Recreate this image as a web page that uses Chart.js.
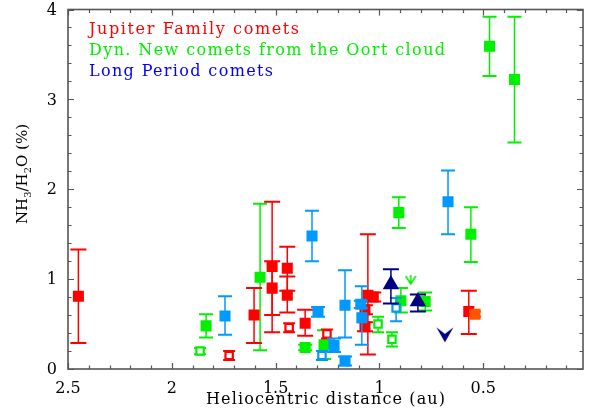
<!DOCTYPE html>
<html>
<head>
<meta charset="utf-8">
<script src="https://cdn.jsdelivr.net/npm/chart.js@4"></script>
<style>
  html, body { margin: 0; padding: 0; background: #fff; }
</style>
</head>
<body>
<canvas id="nh3Chart" width="596" height="416"></canvas>
<script>
// Heliocentric distance (au), NH3/H2O (%) and the low/high ends of each error bar

// Jupiter Family comets
const jfcDist  = [2.45, 1.604, 1.517, 1.517, 1.444, 1.444, 1.358, 1.056, 1.03, 1.07, 1.07, 0.57];
const jfcRatio = [0.81, 0.60, 1.14, 0.90, 1.12, 0.82, 0.51, 0.82, 0.80, 0.66, 0.47, 0.64];
const jfcLo    = [0.29, 0.29, 0.41, 0.60, 0.87, 0.63, 0.37, 0.16, 0.75, 0.61, 0.42, 0.39];
const jfcHi    = [1.33, 0.90, 1.86, 1.20, 1.36, 1.03, 0.66, 1.50, 0.85, 0.71, 0.52, 0.87];

const jfcOpenDist  = [1.724, 1.435, 1.253];
const jfcOpenRatio = [0.15, 0.46, 0.39];
const jfcOpenLo    = [0.10, 0.41, 0.34];
const jfcOpenHi    = [0.20, 0.51, 0.44];

const jfcOrangeDist  = [0.54];
const jfcOrangeRatio = [0.61];
const jfcOrangeLo    = [0.58];
const jfcOrangeHi    = [0.64];

// Dynamically new comets from the Oort cloud
const dncDist  = [1.835, 1.575, 1.358, 1.267, 0.907, 0.897, 0.78, 0.56, 0.47, 0.35];
const dncRatio = [0.48, 1.02, 0.24, 0.27, 1.74, 0.76, 0.75, 1.50, 3.59, 3.22];
const dncLo    = [0.35, 0.21, 0.21, 0.11, 1.57, 0.63, 0.65, 1.19, 3.26, 2.52];
const dncHi    = [0.61, 1.84, 0.27, 0.43, 1.91, 0.90, 0.85, 1.80, 3.92, 3.92];

const dncOpenDist  = [1.864, 1.007, 0.94];
const dncOpenRatio = [0.20, 0.50, 0.33];
const dncOpenLo    = [0.165, 0.41, 0.25];
const dncOpenHi    = [0.235, 0.58, 0.41];

const dncLimitDist  = [0.85];
const dncLimitRatio = [0.99];

// Long Period comets
const lpcDist  = [1.744, 1.325, 1.296, 1.219, 1.166, 1.166, 1.085, 1.09, 0.67];
const lpcRatio = [0.59, 1.48, 0.64, 0.26, 0.09, 0.71, 0.57, 0.72, 1.86];
const lpcLo    = [0.38, 1.20, 0.58, 0.19, 0.04, 0.35, 0.27, 0.68, 1.50];
const lpcHi    = [0.81, 1.76, 0.69, 0.34, 0.14, 1.10, 0.92, 0.76, 2.21];

const lpcOpenDist  = [1.277, 0.92];
const lpcOpenRatio = [0.15, 0.68];
const lpcOpenLo    = [0.10, 0.53];
const lpcOpenHi    = [0.20, 0.79];

const lpcTriDist  = [0.945, 0.815];
const lpcTriRatio = [0.94, 0.75];
const lpcTriLo    = [0.73, 0.64];
const lpcTriHi    = [1.11, 0.83];

const lpcLimitDist  = [0.685];
const lpcLimitRatio = [0.38];

// Axis ticks
const xMajor = [2.5, 2, 1.5, 1, 0.5];
const xLabels = ['2.5', '2', '1.5', '1', '0.5'];
const yMajor = [0, 1, 2, 3, 4];

const RED = '#ff0000';
const GREEN = '#00f000';
const BLUE = '#0099ff';
const NAVY = '#000080';
const ORANGE = '#ff5500';
const SERIF = '"DejaVu Serif", "Liberation Serif", serif';

function points(xs, ys, lo, hi) {
    return xs.map((x, i) => ({ x, y: ys[i], lo: lo ? lo[i] : null, hi: hi ? hi[i] : null }));
}

// Down-pointing arrowheads for upper limits
function filledChevron(color) {
    const c = document.createElement('canvas');
    c.width = 18; c.height = 16;
    const g = c.getContext('2d');
    g.fillStyle = color;
    g.beginPath();
    g.moveTo(0.5, 0.5);
    g.lineTo(9, 15.5);
    g.lineTo(17.5, 0.5);
    g.lineTo(9, 7);
    g.closePath();
    g.fill();
    return c;
}

function lineArrow(color) {
    const c = document.createElement('canvas');
    c.width = 12; c.height = 12;
    const g = c.getContext('2d');
    g.strokeStyle = color;
    g.lineWidth = 1.6;
    g.beginPath();
    g.moveTo(1, 2); g.lineTo(6, 10); g.lineTo(11, 2);
    g.moveTo(6, 1); g.lineTo(6, 10);
    g.stroke();
    return c;
}

function filledSet(xs, ys, lo, hi, color, cap) {
    return {
        data: points(xs, ys, lo, hi),
        pointStyle: 'rect', pointRadius: 7.8,
        backgroundColor: color, borderColor: color, borderWidth: 0,
        barColor: color, capHalf: cap
    };
}

function openSet(xs, ys, lo, hi, color) {
    return {
        data: points(xs, ys, lo, hi),
        pointStyle: 'rect', pointRadius: 5.2,
        backgroundColor: '#ffffff', borderColor: color, borderWidth: 2.2,
        barColor: color, capHalf: 6
    };
}

// Datasets listed top-most first (Chart.js paints index 0 last)
const datasets = [
    {
        data: points(lpcLimitDist, lpcLimitRatio),
        pointStyle: filledChevron(NAVY), pointRadius: 8
    },
    {
        data: points(lpcTriDist, lpcTriRatio, lpcTriLo, lpcTriHi),
        pointStyle: 'triangle', pointRadius: 9.5,
        backgroundColor: NAVY, borderColor: NAVY, borderWidth: 0,
        barColor: NAVY, capHalf: 8
    },
    openSet(lpcOpenDist, lpcOpenRatio, lpcOpenLo, lpcOpenHi, BLUE),
    filledSet(lpcDist, lpcRatio, lpcLo, lpcHi, BLUE, 7),
    filledSet(jfcOrangeDist, jfcOrangeRatio, jfcOrangeLo, jfcOrangeHi, ORANGE, 6),
    openSet(jfcOpenDist, jfcOpenRatio, jfcOpenLo, jfcOpenHi, RED),
    filledSet(jfcDist, jfcRatio, jfcLo, jfcHi, RED, 8),
    {
        data: points(dncLimitDist, dncLimitRatio),
        pointStyle: lineArrow(GREEN), pointRadius: 6
    },
    openSet(dncOpenDist, dncOpenRatio, dncOpenLo, dncOpenHi, GREEN),
    filledSet(dncDist, dncRatio, dncLo, dncHi, GREEN, 7)
];

const errorBars = {
    id: 'errorBars',
    beforeDatasetDraw(chart, args) {
        const ds = chart.data.datasets[args.index];
        if (!ds.barColor) return;
        const xs = chart.scales.x, ys = chart.scales.y;
        const ctx = chart.ctx;
        ctx.save();
        ctx.strokeStyle = ds.barColor;
        ds.data.forEach(p => {
            if (p.lo === null) return;
            const px = xs.getPixelForValue(p.x);
            const top = ys.getPixelForValue(p.hi);
            const bot = ys.getPixelForValue(p.lo);
            const w = ds.capHalf;
            ctx.lineWidth = 1.5;
            ctx.beginPath();
            ctx.moveTo(px, top); ctx.lineTo(px, bot);
            ctx.stroke();
            ctx.lineWidth = 2;
            ctx.beginPath();
            ctx.moveTo(px - w, top); ctx.lineTo(px + w, top);
            ctx.moveTo(px - w, bot); ctx.lineTo(px + w, bot);
            ctx.stroke();
        });
        ctx.restore();
    }
};

function spacedText(ctx, text, x, y, width) {
    ctx.letterSpacing = '0px';
    const natural = ctx.measureText(text).width;
    const gap = (width - natural) / Math.max(1, text.length - 1);
    ctx.letterSpacing = gap.toFixed(2) + 'px';
    ctx.fillText(text, x, y);
    ctx.letterSpacing = '0px';
}

const frameAndText = {
    id: 'frameAndText',
    afterDraw(chart) {
        const { ctx, chartArea: a } = chart;
        const xs = chart.scales.x, ys = chart.scales.y;
        ctx.save();

        // box and inward ticks on all four sides
        ctx.strokeStyle = '#555';
        ctx.lineWidth = 1.6;
        ctx.strokeRect(a.left, a.top, a.right - a.left, a.bottom - a.top);
        ctx.lineWidth = 1.2;
        ctx.beginPath();
        for (let v = 25; v >= 1; v--) {
            const px = Math.round(xs.getPixelForValue(v / 10)) + 0.5;
            const len = v % 5 === 0 ? 6 : 3.5;
            ctx.moveTo(px, a.bottom); ctx.lineTo(px, a.bottom - len);
            ctx.moveTo(px, a.top); ctx.lineTo(px, a.top + len);
        }
        for (let v = 0; v <= 20; v++) {
            const py = Math.round(ys.getPixelForValue(v / 5)) + 0.5;
            const len = v % 5 === 0 ? 6 : 3.5;
            ctx.moveTo(a.left, py); ctx.lineTo(a.left + len, py);
            ctx.moveTo(a.right, py); ctx.lineTo(a.right - len, py);
        }
        ctx.stroke();

        // tick labels
        ctx.fillStyle = '#000';
        ctx.font = '16px ' + SERIF;
        ctx.textAlign = 'center';
        ctx.textBaseline = 'alphabetic';
        xMajor.forEach((v, i) => ctx.fillText(xLabels[i], xs.getPixelForValue(v), 393));
        ctx.textAlign = 'right';
        ctx.textBaseline = 'middle';
        yMajor.forEach(v => ctx.fillText(String(v), 57, ys.getPixelForValue(v) + 1));

        // x title
        ctx.textAlign = 'left';
        ctx.textBaseline = 'alphabetic';
        spacedText(ctx, 'Heliocentric distance (au)', 206, 404, 239);

        // y title with subscripts, rotated
        ctx.save();
        ctx.translate(27, 174);
        ctx.rotate(-Math.PI / 2);
        const parts = [['NH', 15, 0], ['3', 10, 4], ['/H', 15, 0], ['2', 10, 4], ['O (%)', 15, 0]];
        let total = 0;
        parts.forEach(p => { ctx.font = p[1] + 'px ' + SERIF; total += ctx.measureText(p[0]).width; });
        let cx = -total / 2;
        parts.forEach(p => {
            ctx.font = p[1] + 'px ' + SERIF;
            ctx.fillText(p[0], cx, p[2]);
            cx += ctx.measureText(p[0]).width;
        });
        ctx.restore();

        // legend text
        ctx.font = '16px ' + SERIF;
        ctx.fillStyle = RED;
        spacedText(ctx, 'Jupiter Family comets', 89, 34, 210);
        ctx.fillStyle = GREEN;
        spacedText(ctx, 'Dyn. New comets from the Oort cloud', 89, 55, 356);
        ctx.fillStyle = '#0000ff';
        spacedText(ctx, 'Long Period comets', 89, 76, 184);

        ctx.restore();
    }
};

new Chart(document.getElementById('nh3Chart'), {
    type: 'scatter',
    data: { datasets },
    options: {
        responsive: false,
        animation: false,
        devicePixelRatio: 1,
        layout: { padding: { top: 9, right: 13, left: 0, bottom: 0 } },
        plugins: { legend: { display: false }, tooltip: { enabled: false } },
        scales: {
            x: {
                type: 'linear', reverse: true, min: 0.02, max: 2.5,
                grid: { display: false }, border: { display: false },
                ticks: { display: false },
                afterFit(s) { s.height = 47; }
            },
            y: {
                type: 'linear', min: 0, max: 4,
                grid: { display: false }, border: { display: false },
                ticks: { display: false },
                afterFit(s) { s.width = 68; }
            }
        }
    },
    plugins: [errorBars, frameAndText]
});
</script>
</body>
</html>
